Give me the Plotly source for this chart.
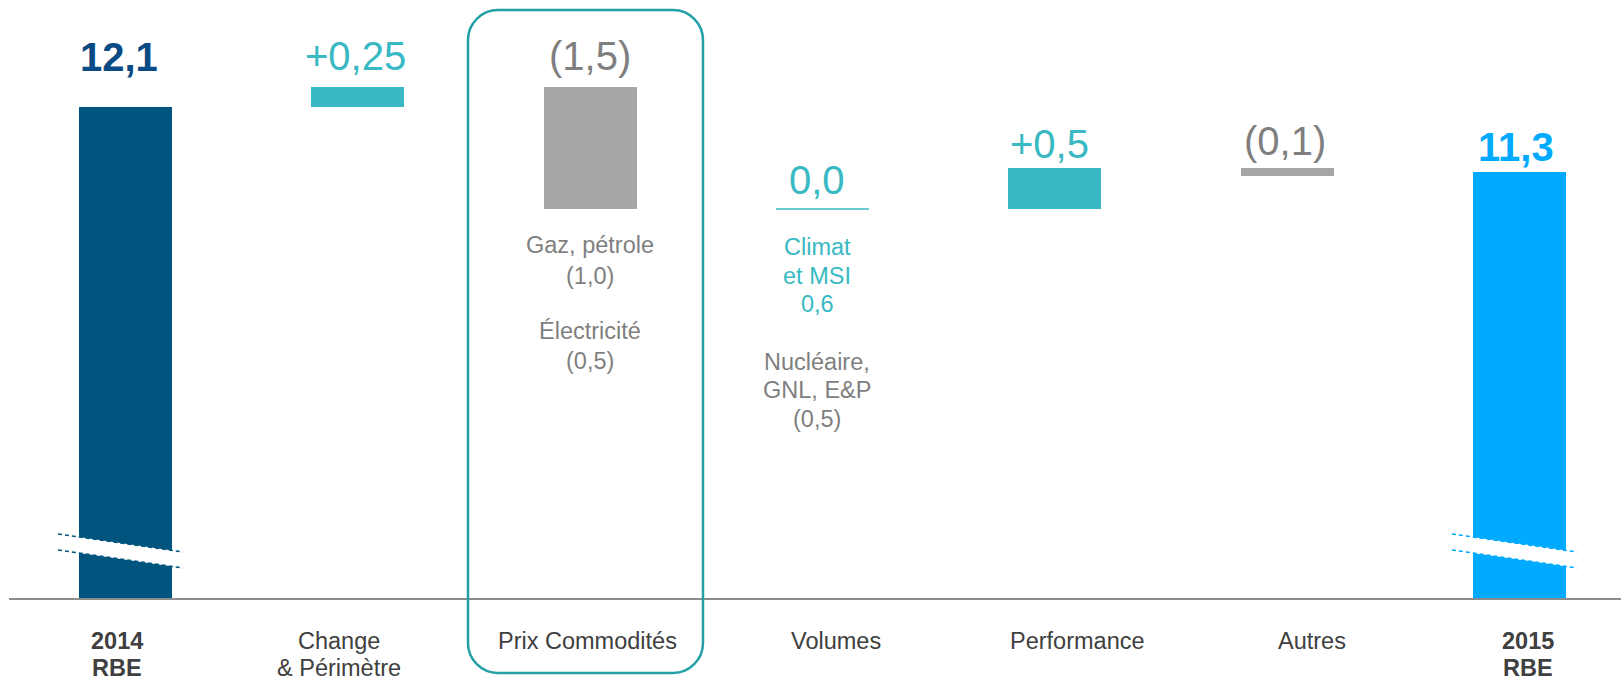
import plotly.graph_objects as go

# ---------------- data ----------------
categories = [["2014", "RBE"], ["Change", "& Périmètre"], ["Prix Commodités"],
              ["Volumes"], ["Performance"], ["Autres"], ["2015", "RBE"]]
measures = ["absolute", "relative", "relative", "relative", "relative", "relative", "absolute"]
values = [12.1, 0.25, -1.5, 0.0, 0.5, -0.1, 11.3]
value_labels = ["12,1", "+0,25", "(1,5)", "0,0", "+0,5", "(0,1)", "11,3"]
prix_detail = ["Gaz, pétrole", "(1,0)", "Électricité", "(0,5)"]
volumes_detail = ["Climat", "et MSI", "0,6", "Nucléaire,", "GNL, E&P", "(0,5)"]

# ---------------- styles ----------------
FONT = "Liberation Sans, Arial, sans-serif"
NAVY, TEAL, GREY, SKY = "#00557F", "#38B9C3", "#A6A6A6", "#00AAFF"
bar_colors = [NAVY, TEAL, GREY, TEAL, TEAL, GREY, SKY]
label_colors = ["#0A4A85", TEAL, "#7F7F7F", TEAL, TEAL, "#7F7F7F", SKY]
label_bold = [True, False, False, False, False, False, True]
label_yshift = [50, 31, 31, 29, 24, 27, 25]
label_xshift = [-6, -2, 0, -5, -5, -2, -3]
cat_xshift = [-8, -18.5, -2.5, 13.5, 22.5, 25, 8.5]
BOX_COLOR = "#239FA6"

W_FIG, H_FIG = 1621, 681
L, R, T, B = 9, 0, 20, 83
W = W_FIG - L - R
H = H_FIG - T - B
X_RANGE = [-0.5014, 6.437]
Y_RANGE = [6.0646, 13.174]
PXX = W / (X_RANGE[1] - X_RANGE[0])
BAR_W = 0.4


def py_paper(py):
    return (T + H - py) / H


def px_paper(px):
    return (px - L) / W


# ---------------- compute waterfall geometry ----------------
bases, heights, tops, bottoms = [], [], [], []
level = 0.0
for m, v in zip(measures, values):
    if m == "absolute":
        b = 0.0
        level = v
    else:
        b = level
        level = level + v
    bases.append(b)
    heights.append(v)
    tops.append(max(b, b + v))
    bottoms.append(min(b, b + v))

idx = list(range(len(values)))

fig = go.Figure()
fig.add_trace(go.Bar(
    x=idx, y=heights, base=bases, width=BAR_W,
    marker=dict(color=bar_colors, line=dict(width=0)),
    hoverinfo="skip", showlegend=False,
))

shapes = []
annotations = []

# zero-change marker (Volumes)
for i, (m, v) in enumerate(zip(measures, values)):
    if m == "relative" and v == 0:
        shapes.append(dict(type="line", xref="x", yref="y",
                           x0=i - BAR_W / 2, x1=i + BAR_W / 2,
                           y0=bases[i], y1=bases[i],
                           line=dict(color=TEAL, width=1.5)))

# axis-break marks on the total bars
for i, m in enumerate(measures):
    if m != "absolute":
        continue
    col = bar_colors[i]

    def y_up(dx):
        return 534 + (dx + 67.5) * 18 / 125

    xl, xr = i - 47 / PXX, i + 47 / PXX
    path = (f"M {xl},{py_paper(y_up(-47))} L {xr},{py_paper(y_up(47))} "
            f"L {xr},{py_paper(y_up(47) + 16)} L {xl},{py_paper(y_up(-47) + 16)} Z")
    shapes.append(dict(type="path", xref="x", yref="paper", path=path,
                       fillcolor="white", line=dict(width=0)))
    for off in (0, 16):
        shapes.append(dict(type="line", xref="x", yref="paper",
                           x0=i - 67.5 / PXX, x1=i + 57.5 / PXX,
                           y0=py_paper(534 + off), y1=py_paper(552 + off),
                           line=dict(color=col, width=1.5, dash="4px,3px")))

# rounded highlight box around "Prix Commodités"
X0, X1 = px_paper(468), px_paper(703)
Y0, Y1 = py_paper(673), py_paper(10)
rx, ry = 30 / W, 30 / H
k = 0.5523
box = (f"M {X0 + rx},{Y1} L {X1 - rx},{Y1} "
       f"C {X1 - rx + k * rx},{Y1} {X1},{Y1 - ry + k * ry} {X1},{Y1 - ry} "
       f"L {X1},{Y0 + ry} "
       f"C {X1},{Y0 + ry - k * ry} {X1 - rx + k * rx},{Y0} {X1 - rx},{Y0} "
       f"L {X0 + rx},{Y0} "
       f"C {X0 + rx - k * rx},{Y0} {X0},{Y0 + ry - k * ry} {X0},{Y0 + ry} "
       f"L {X0},{Y1 - ry} "
       f"C {X0},{Y1 - ry + k * ry} {X0 + rx - k * rx},{Y1} {X0 + rx},{Y1} Z")
shapes.append(dict(type="path", xref="paper", yref="paper", path=box,
                   line=dict(color=BOX_COLOR, width=2.5), fillcolor="rgba(0,0,0,0)"))

# value labels
for i, txt in enumerate(value_labels):
    annotations.append(dict(
        x=i, y=tops[i], xref="x", yref="y", text=f"<b>{txt}</b>" if label_bold[i] else txt,
        showarrow=False, xanchor="center", yanchor="middle",
        yshift=label_yshift[i], xshift=label_xshift[i],
        font=dict(family=FONT, size=40, color=label_colors[i])))

# detail texts under Prix Commodités and Volumes
prix_shift = [-36, -67, -122, -152]
for t, s in zip(prix_detail, prix_shift):
    annotations.append(dict(x=2, y=bottoms[2], xref="x", yref="y", text=t, showarrow=False,
                            xanchor="center", yanchor="middle", yshift=s,
                            font=dict(family=FONT, size=23.5, color="#7F7F7F")))
vol_shift = [-38, -67, -95, -153, -181, -210]
vol_colors = [TEAL, TEAL, TEAL, "#7F7F7F", "#7F7F7F", "#7F7F7F"]
for t, s, c in zip(volumes_detail, vol_shift, vol_colors):
    annotations.append(dict(x=3, y=bottoms[3], xref="x", yref="y", text=t, showarrow=False,
                            xanchor="center", yanchor="middle", yshift=s, xshift=-5,
                            font=dict(family=FONT, size=23.5, color=c)))

# category labels
for i, lines in enumerate(categories):
    for j, line in enumerate(lines):
        annotations.append(dict(
            x=i, y=0, xref="x", yref="paper",
            text=f"<b>{line}</b>" if measures[i] == "absolute" else line,
            showarrow=False, xanchor="center", yanchor="middle", borderpad=0,
            yshift=-43 - 27 * j, xshift=cat_xshift[i],
            font=dict(family=FONT, size=23.5, color="#404040")))

fig.update_layout(
    width=W_FIG, height=H_FIG,
    margin=dict(l=L, r=R, t=T, b=B, pad=0),
    paper_bgcolor="white", plot_bgcolor="white",
    showlegend=False, bargap=0,
    xaxis=dict(range=X_RANGE, showgrid=False, zeroline=False, showticklabels=False,
               ticks="", showline=True, linecolor="#8C8C8C", linewidth=2, fixedrange=True),
    yaxis=dict(range=Y_RANGE, visible=False, showgrid=False, zeroline=False, fixedrange=True),
    shapes=shapes, annotations=annotations,
)

fig.write_html("out.html", config={"displayModeBar": False},
               post_script="document.body.style.margin='0';document.body.style.overflow='hidden';")
